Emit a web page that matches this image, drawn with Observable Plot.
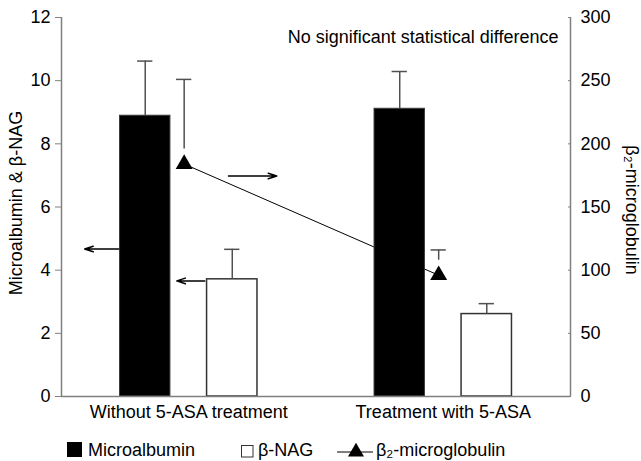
<!DOCTYPE html>
<html>
<head>
<meta charset="utf-8">
<script src="https://cdn.jsdelivr.net/npm/d3@7"></script>
<script src="https://cdn.jsdelivr.net/npm/@observablehq/plot@0.6"></script>
<style>
  html, body { margin: 0; padding: 0; background: #fff; }
  body { font-family: "Liberation Sans", Arial, sans-serif; }
  #chart { width: 641px; }
  #chart svg { display: block; }
</style>
</head>
<body>
<div id="chart"></div>
<script>
// ---- data ----
const groups = ["Without 5-ASA treatment", "Treatment with 5-ASA"];
const microalbumin = [8.89, 9.11];
const microalbuminErr = [1.73, 1.18];
const nag = [3.71, 2.61];
const nagErr = [0.95, 0.33];
const b2m = [184, 96];
const b2mErr = [67, 20];
const leftTicks = [0, 2, 4, 6, 8, 10, 12];
const rightTicks = [0, 50, 100, 150, 200, 250, 300];
const seriesNames = ["Microalbumin", "β-NAG", "β₂-microglobulin"];
const leftLabel = "Microalbumin & β-NAG";
const rightLabel = "β₂-microglobulin";
const note = "No significant statistical difference";
// annotation arrows (value level on left-axis units)
const arrowLevels = [4.67, 3.66, 6.98];

// ---- layout constants (fractions of one group's width) ----
const RATIO = rightTicks[rightTicks.length - 1] / leftTicks[leftTicks.length - 1];
const BAR_IN = 0.072, BAR_OUT = 0.27, CAP = 0.03, TRI_OFF = -0.018;
const BAR_MID = (BAR_IN + BAR_OUT) / 2;

const rows = groups.map((g, i) => ({
  g, c: i + 0.5,
  ma: microalbumin[i], maTop: microalbumin[i] + microalbuminErr[i],
  nag: nag[i], nagTop: nag[i] + nagErr[i],
  b2: b2m[i] / RATIO, b2Top: (b2m[i] + b2mErr[i]) / RATIO
}));

const arrows = [
  {c: 0.5, from: -0.275, to: -0.409, y: arrowLevels[0]},
  {c: 0.5, from: 0.063, to: -0.047, y: arrowLevels[1]},
  {c: 0.5, from: 0.156, to: 0.346, y: arrowLevels[2]}
];

const axisGray = "#808080";
const errGray = "#505050";

const plot = Plot.plot({
  width: 641,
  height: 426,
  marginLeft: 61,
  marginRight: 71,
  marginTop: 17,
  marginBottom: 30,
  style: {fontFamily: "Liberation Sans, Arial, sans-serif", fontSize: "18px", background: "white", color: "black"},
  x: {domain: [0, groups.length]},
  y: {domain: [leftTicks[0], leftTicks[leftTicks.length - 1]]},
  marks: [
    // connecting line of beta2-microglobulin
    Plot.line(rows, {x: d => d.c + TRI_OFF, y: "b2", stroke: "black", strokeWidth: 1}),
    // bars
    Plot.rectY(rows, {x1: d => d.c - BAR_OUT, x2: d => d.c - BAR_IN, y1: 0, y2: "ma", fill: "black", stroke: "#3a3a3a", strokeWidth: 1}),
    Plot.rectY(rows, {x1: d => d.c + BAR_IN, x2: d => d.c + BAR_OUT, y1: 0, y2: "nag", fill: "white", stroke: "#333", strokeWidth: 1.5}),
    // error bars
    Plot.ruleX(rows, {x: d => d.c - BAR_MID, y1: "maTop", y2: "ma", stroke: errGray, strokeWidth: 1.5}),
    Plot.ruleY(rows, {y: "maTop", x1: d => d.c - BAR_MID - CAP, x2: d => d.c - BAR_MID + CAP, stroke: errGray, strokeWidth: 1.5}),
    Plot.ruleX(rows, {x: d => d.c + BAR_MID, y1: "nagTop", y2: "nag", stroke: errGray, strokeWidth: 1.5}),
    Plot.ruleY(rows, {y: "nagTop", x1: d => d.c + BAR_MID - CAP, x2: d => d.c + BAR_MID + CAP, stroke: errGray, strokeWidth: 1.5}),
    Plot.ruleX(rows, {x: d => d.c + TRI_OFF, y1: "b2Top", y2: "b2", insetBottom: 15, stroke: errGray, strokeWidth: 1.5}),
    Plot.ruleY(rows, {y: "b2Top", x1: d => d.c + TRI_OFF - CAP, x2: d => d.c + TRI_OFF + CAP, stroke: errGray, strokeWidth: 1.5}),
    // triangles
    Plot.dot(rows, {x: d => d.c + TRI_OFF, y: "b2", symbol: "triangle", r: 6.3, fill: "black", stroke: null}),
    // annotation arrows
    Plot.arrow(arrows, {x1: d => d.c + d.from, x2: d => d.c + d.to, y1: "y", y2: "y", stroke: "black", strokeWidth: 1.5, headLength: 9, headAngle: 36}),
    // axis lines
    Plot.ruleX([0, groups.length], {stroke: axisGray, strokeWidth: 1.5}),
    Plot.ruleY([0], {stroke: axisGray, strokeWidth: 1.5}),
    // axes
    Plot.axisY(leftTicks, {anchor: "left", tickSize: 6, tickPadding: 5, stroke: axisGray, label: null}),
    Plot.axisY(rightTicks.map(v => v / RATIO), {anchor: "right", tickSize: -3, tickPadding: 13, stroke: axisGray, tickFormat: d => Math.round(d * RATIO), label: null}),
    Plot.axisX(groups.map((g, i) => i + 0.5), {anchor: "bottom", tickSize: 0, tickPadding: 9, tickFormat: d => groups[Math.floor(d)], label: null}),
    // axis titles and note
    Plot.text([leftLabel], {text: d => d, frameAnchor: "left", textAnchor: "middle", rotate: -90, dx: -45, dy: -4, fill: "black"}),
    Plot.text([rightLabel], {text: d => d, frameAnchor: "right", textAnchor: "middle", rotate: 90, dx: 61, dy: 3, fill: "black"}),
    Plot.text([note], {text: d => d, frameAnchor: "top-right", textAnchor: "end", lineAnchor: "top", dx: -12, dy: 13, fill: "black"})
  ]
});
document.getElementById("chart").appendChild(plot);

// ---- legend ----
const ns = "http://www.w3.org/2000/svg";
const leg = d3.select("#chart").append("svg")
  .attr("xmlns", ns).attr("width", 641).attr("height", 35)
  .style("font-family", "Liberation Sans, Arial, sans-serif").style("font-size", "18px");
leg.append("rect").attr("x", 67).attr("y", 16).attr("width", 15).attr("height", 15).attr("fill", "black");
leg.append("text").attr("x", 88).attr("y", 30).text(seriesNames[0]);
leg.append("rect").attr("x", 241.5).attr("y", 19.5).attr("width", 11.5).attr("height", 11.5).attr("fill", "white").attr("stroke", "#333").attr("stroke-width", 1);
leg.append("text").attr("x", 258).attr("y", 30).text(seriesNames[1]);
leg.append("line").attr("x1", 337).attr("x2", 373).attr("y1", 26).attr("y2", 26).attr("stroke", "black").attr("stroke-width", 1.2);
leg.append("path").attr("d", d3.symbol(d3.symbolTriangle, 110)()).attr("transform", "translate(356,26)").attr("fill", "black");
leg.append("text").attr("x", 376).attr("y", 30).text(seriesNames[2]);
</script>
</body>
</html>
